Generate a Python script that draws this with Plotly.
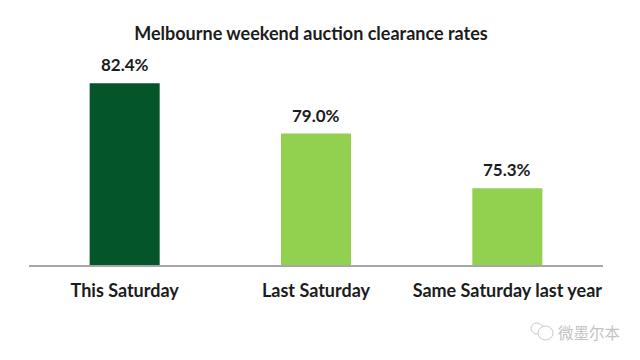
import plotly.graph_objects as go

categories = ["This Saturday", "Last Saturday", "Same Saturday last year"]
values = [82.4, 79.0, 75.3]
labels = ["82.4%", "79.0%", "75.3%"]
colors = ["#04562a", "#92d050", "#92d050"]

FONT = "Lato, sans-serif"
INK = "#1c1c1c"
W, H = 640, 360
OFF = 8  # the page's body margin
L, R, T, B = 21, 45, 0, 103

def px(x):
    return (x - OFF - L) / (W - L - R)

def py(y):
    return (H - B - (y - OFF)) / (H - T - B)

fig = go.Figure(go.Bar(x=categories, y=values, width=0.366,
                       marker=dict(color=colors, line=dict(width=0))))

annotations = [
    dict(x=c, y=v, text=f"<b>{t}</b>", yshift=6, yanchor="bottom", showarrow=False,
         font=dict(family=FONT, size=17, color=INK))
    for c, v, t in zip(categories, values, labels)
]
annotations.append(dict(text="微墨尔本", x=px(622), y=py(332), xref="paper", yref="paper",
                        xanchor="right", yanchor="middle", showarrow=False,
                        font=dict(family="Noto Sans CJK SC", size=15.5, color="#c4c4c4")))

shapes = [
    dict(type="circle", xref="paper", yref="paper", x0=px(x0), x1=px(x1), y0=py(y1), y1=py(y0),
         line=dict(color="#c8c8c8", width=1), fillcolor="white")
    for x0, y0, x1, y1 in [(531, 323, 543, 334), (538, 326, 553, 340)]
]

fig.update_layout(
    width=W, height=H, paper_bgcolor="white", plot_bgcolor="white", showlegend=False,
    margin=dict(l=L, r=R, t=T, b=B),
    title=dict(text="<b>Melbourne weekend auction clearance rates</b>", x=(311 - OFF) / W, xanchor="center",
               y=1 - (34 - OFF) / H, yanchor="middle", font=dict(family=FONT, size=18, color=INK)),
    xaxis=dict(showline=True, linecolor="#a6a6a6", linewidth=1.5, ticks="outside", ticklen=9,
               tickcolor="rgba(0,0,0,0)", showgrid=False,
               tickfont=dict(family=FONT, size=18, color=INK), tickprefix="<b>", ticksuffix="</b>"),
    yaxis=dict(range=[70.1, 87.5], visible=False),
    annotations=annotations,
    shapes=shapes,
)
fig.write_html("out.html")
